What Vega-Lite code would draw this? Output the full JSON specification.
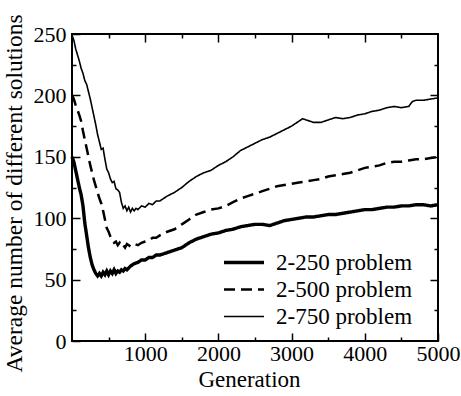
{
"$schema":"https://vega.github.io/schema/vega-lite/v6.json",
"width":366,"height":307,
"autosize":{"type":"none"},
"padding":{"left":72,"top":34,"right":23,"bottom":55},
"config":{
 "view":{"stroke":"black","strokeWidth":2},
 "font":"Times New Roman, Liberation Serif, serif",
 "axis":{"domain":false,"grid":false,"labelFont":"Times New Roman, Liberation Serif, serif","labelFontSize":22,"labelColor":"black","labelFlush":false,"labelOverlap":false,"titleFont":"Times New Roman, Liberation Serif, serif","titleFontSize":23,"titleFontWeight":"normal","titleColor":"black","tickColor":"black","tickWidth":1.5},
 "legend":{"orient":"none","legendX":150,"legendY":215,"padding":0,"labelFont":"Times New Roman, Liberation Serif, serif","labelFontSize":23,"labelColor":"black","labelOffset":10,"symbolType":"stroke","symbolSize":1600,"symbolStrokeColor":"black","clipHeight":27,"rowPadding":0}
},
"datasets":{"d":[
{"g":0,"v":150,"s":"2-250 problem"},{"g":25,"v":146,"s":"2-250 problem"},{"g":50,"v":139,"s":"2-250 problem"},{"g":75,"v":132,"s":"2-250 problem"},{"g":100,"v":125,"s":"2-250 problem"},{"g":125,"v":119,"s":"2-250 problem"},{"g":150,"v":110,"s":"2-250 problem"},{"g":175,"v":96,"s":"2-250 problem"},{"g":200,"v":86,"s":"2-250 problem"},{"g":225,"v":76,"s":"2-250 problem"},{"g":250,"v":68,"s":"2-250 problem"},{"g":275,"v":62,"s":"2-250 problem"},{"g":300,"v":58,"s":"2-250 problem"},{"g":325,"v":55,"s":"2-250 problem"},{"g":350,"v":53,"s":"2-250 problem"},{"g":375,"v":55,"s":"2-250 problem"},{"g":400,"v":53,"s":"2-250 problem"},{"g":425,"v":56,"s":"2-250 problem"},{"g":450,"v":54,"s":"2-250 problem"},{"g":475,"v":57,"s":"2-250 problem"},{"g":500,"v":54,"s":"2-250 problem"},{"g":525,"v":57,"s":"2-250 problem"},{"g":550,"v":55,"s":"2-250 problem"},{"g":575,"v":58,"s":"2-250 problem"},{"g":600,"v":55,"s":"2-250 problem"},{"g":625,"v":57,"s":"2-250 problem"},{"g":650,"v":56,"s":"2-250 problem"},{"g":675,"v":58,"s":"2-250 problem"},{"g":700,"v":57,"s":"2-250 problem"},{"g":725,"v":59,"s":"2-250 problem"},{"g":750,"v":58,"s":"2-250 problem"},{"g":800,"v":61,"s":"2-250 problem"},{"g":850,"v":63,"s":"2-250 problem"},{"g":900,"v":64,"s":"2-250 problem"},{"g":950,"v":66,"s":"2-250 problem"},{"g":1000,"v":66,"s":"2-250 problem"},{"g":1050,"v":68,"s":"2-250 problem"},{"g":1100,"v":68,"s":"2-250 problem"},{"g":1150,"v":70,"s":"2-250 problem"},{"g":1200,"v":70,"s":"2-250 problem"},{"g":1300,"v":72,"s":"2-250 problem"},{"g":1400,"v":74,"s":"2-250 problem"},{"g":1500,"v":76,"s":"2-250 problem"},{"g":1600,"v":80,"s":"2-250 problem"},{"g":1700,"v":83,"s":"2-250 problem"},{"g":1800,"v":85,"s":"2-250 problem"},{"g":1900,"v":87,"s":"2-250 problem"},{"g":2000,"v":88,"s":"2-250 problem"},{"g":2100,"v":90,"s":"2-250 problem"},{"g":2200,"v":91,"s":"2-250 problem"},{"g":2300,"v":93,"s":"2-250 problem"},{"g":2400,"v":94,"s":"2-250 problem"},{"g":2500,"v":95,"s":"2-250 problem"},{"g":2600,"v":95,"s":"2-250 problem"},{"g":2700,"v":94,"s":"2-250 problem"},{"g":2800,"v":96,"s":"2-250 problem"},{"g":2900,"v":98,"s":"2-250 problem"},{"g":3000,"v":99,"s":"2-250 problem"},{"g":3100,"v":100,"s":"2-250 problem"},{"g":3200,"v":101,"s":"2-250 problem"},{"g":3300,"v":101,"s":"2-250 problem"},{"g":3400,"v":102,"s":"2-250 problem"},{"g":3500,"v":103,"s":"2-250 problem"},{"g":3600,"v":103,"s":"2-250 problem"},{"g":3700,"v":104,"s":"2-250 problem"},{"g":3800,"v":105,"s":"2-250 problem"},{"g":3900,"v":106,"s":"2-250 problem"},{"g":4000,"v":107,"s":"2-250 problem"},{"g":4100,"v":107,"s":"2-250 problem"},{"g":4200,"v":108,"s":"2-250 problem"},{"g":4300,"v":109,"s":"2-250 problem"},{"g":4400,"v":109,"s":"2-250 problem"},{"g":4500,"v":110,"s":"2-250 problem"},{"g":4600,"v":110,"s":"2-250 problem"},{"g":4700,"v":111,"s":"2-250 problem"},{"g":4800,"v":111,"s":"2-250 problem"},{"g":4900,"v":110,"s":"2-250 problem"},{"g":5000,"v":111,"s":"2-250 problem"},
{"g":0,"v":200,"s":"2-500 problem"},{"g":25,"v":197,"s":"2-500 problem"},{"g":50,"v":192,"s":"2-500 problem"},{"g":75,"v":188,"s":"2-500 problem"},{"g":100,"v":184,"s":"2-500 problem"},{"g":125,"v":179,"s":"2-500 problem"},{"g":150,"v":171,"s":"2-500 problem"},{"g":175,"v":164,"s":"2-500 problem"},{"g":200,"v":157,"s":"2-500 problem"},{"g":225,"v":150,"s":"2-500 problem"},{"g":250,"v":143,"s":"2-500 problem"},{"g":275,"v":137,"s":"2-500 problem"},{"g":300,"v":131,"s":"2-500 problem"},{"g":325,"v":126,"s":"2-500 problem"},{"g":350,"v":121,"s":"2-500 problem"},{"g":375,"v":116,"s":"2-500 problem"},{"g":400,"v":112,"s":"2-500 problem"},{"g":425,"v":106,"s":"2-500 problem"},{"g":450,"v":99,"s":"2-500 problem"},{"g":475,"v":92,"s":"2-500 problem"},{"g":500,"v":89,"s":"2-500 problem"},{"g":525,"v":85,"s":"2-500 problem"},{"g":550,"v":82,"s":"2-500 problem"},{"g":575,"v":80,"s":"2-500 problem"},{"g":600,"v":81,"s":"2-500 problem"},{"g":625,"v":78,"s":"2-500 problem"},{"g":650,"v":80,"s":"2-500 problem"},{"g":675,"v":77,"s":"2-500 problem"},{"g":700,"v":78,"s":"2-500 problem"},{"g":725,"v":76,"s":"2-500 problem"},{"g":750,"v":79,"s":"2-500 problem"},{"g":800,"v":77,"s":"2-500 problem"},{"g":850,"v":79,"s":"2-500 problem"},{"g":900,"v":78,"s":"2-500 problem"},{"g":950,"v":80,"s":"2-500 problem"},{"g":1000,"v":81,"s":"2-500 problem"},{"g":1050,"v":82,"s":"2-500 problem"},{"g":1100,"v":84,"s":"2-500 problem"},{"g":1150,"v":84,"s":"2-500 problem"},{"g":1200,"v":86,"s":"2-500 problem"},{"g":1300,"v":89,"s":"2-500 problem"},{"g":1400,"v":91,"s":"2-500 problem"},{"g":1500,"v":95,"s":"2-500 problem"},{"g":1600,"v":99,"s":"2-500 problem"},{"g":1700,"v":103,"s":"2-500 problem"},{"g":1800,"v":105,"s":"2-500 problem"},{"g":1900,"v":107,"s":"2-500 problem"},{"g":2000,"v":108,"s":"2-500 problem"},{"g":2100,"v":110,"s":"2-500 problem"},{"g":2200,"v":113,"s":"2-500 problem"},{"g":2300,"v":116,"s":"2-500 problem"},{"g":2400,"v":118,"s":"2-500 problem"},{"g":2500,"v":120,"s":"2-500 problem"},{"g":2600,"v":122,"s":"2-500 problem"},{"g":2700,"v":124,"s":"2-500 problem"},{"g":2800,"v":126,"s":"2-500 problem"},{"g":2900,"v":127,"s":"2-500 problem"},{"g":3000,"v":128,"s":"2-500 problem"},{"g":3100,"v":129,"s":"2-500 problem"},{"g":3200,"v":130,"s":"2-500 problem"},{"g":3300,"v":131,"s":"2-500 problem"},{"g":3400,"v":132,"s":"2-500 problem"},{"g":3500,"v":134,"s":"2-500 problem"},{"g":3600,"v":135,"s":"2-500 problem"},{"g":3700,"v":136,"s":"2-500 problem"},{"g":3800,"v":137,"s":"2-500 problem"},{"g":3900,"v":139,"s":"2-500 problem"},{"g":4000,"v":141,"s":"2-500 problem"},{"g":4100,"v":142,"s":"2-500 problem"},{"g":4200,"v":143,"s":"2-500 problem"},{"g":4300,"v":145,"s":"2-500 problem"},{"g":4400,"v":146,"s":"2-500 problem"},{"g":4500,"v":146,"s":"2-500 problem"},{"g":4600,"v":147,"s":"2-500 problem"},{"g":4700,"v":148,"s":"2-500 problem"},{"g":4800,"v":148,"s":"2-500 problem"},{"g":4900,"v":149,"s":"2-500 problem"},{"g":5000,"v":150,"s":"2-500 problem"},
{"g":0,"v":249,"s":"2-750 problem"},{"g":25,"v":245,"s":"2-750 problem"},{"g":50,"v":238,"s":"2-750 problem"},{"g":75,"v":233,"s":"2-750 problem"},{"g":100,"v":228,"s":"2-750 problem"},{"g":125,"v":222,"s":"2-750 problem"},{"g":150,"v":218,"s":"2-750 problem"},{"g":175,"v":212,"s":"2-750 problem"},{"g":200,"v":209,"s":"2-750 problem"},{"g":225,"v":203,"s":"2-750 problem"},{"g":250,"v":197,"s":"2-750 problem"},{"g":275,"v":190,"s":"2-750 problem"},{"g":300,"v":183,"s":"2-750 problem"},{"g":325,"v":176,"s":"2-750 problem"},{"g":350,"v":168,"s":"2-750 problem"},{"g":375,"v":162,"s":"2-750 problem"},{"g":400,"v":156,"s":"2-750 problem"},{"g":425,"v":157,"s":"2-750 problem"},{"g":450,"v":148,"s":"2-750 problem"},{"g":475,"v":140,"s":"2-750 problem"},{"g":500,"v":137,"s":"2-750 problem"},{"g":525,"v":132,"s":"2-750 problem"},{"g":550,"v":129,"s":"2-750 problem"},{"g":575,"v":130,"s":"2-750 problem"},{"g":600,"v":124,"s":"2-750 problem"},{"g":625,"v":123,"s":"2-750 problem"},{"g":650,"v":121,"s":"2-750 problem"},{"g":675,"v":113,"s":"2-750 problem"},{"g":700,"v":108,"s":"2-750 problem"},{"g":725,"v":110,"s":"2-750 problem"},{"g":750,"v":106,"s":"2-750 problem"},{"g":775,"v":109,"s":"2-750 problem"},{"g":800,"v":105,"s":"2-750 problem"},{"g":825,"v":108,"s":"2-750 problem"},{"g":850,"v":106,"s":"2-750 problem"},{"g":875,"v":108,"s":"2-750 problem"},{"g":900,"v":107,"s":"2-750 problem"},{"g":950,"v":110,"s":"2-750 problem"},{"g":1000,"v":109,"s":"2-750 problem"},{"g":1050,"v":112,"s":"2-750 problem"},{"g":1100,"v":111,"s":"2-750 problem"},{"g":1150,"v":114,"s":"2-750 problem"},{"g":1200,"v":114,"s":"2-750 problem"},{"g":1300,"v":118,"s":"2-750 problem"},{"g":1400,"v":121,"s":"2-750 problem"},{"g":1500,"v":125,"s":"2-750 problem"},{"g":1600,"v":130,"s":"2-750 problem"},{"g":1700,"v":134,"s":"2-750 problem"},{"g":1800,"v":137,"s":"2-750 problem"},{"g":1900,"v":139,"s":"2-750 problem"},{"g":2000,"v":143,"s":"2-750 problem"},{"g":2100,"v":146,"s":"2-750 problem"},{"g":2200,"v":150,"s":"2-750 problem"},{"g":2300,"v":155,"s":"2-750 problem"},{"g":2400,"v":158,"s":"2-750 problem"},{"g":2500,"v":161,"s":"2-750 problem"},{"g":2600,"v":164,"s":"2-750 problem"},{"g":2700,"v":166,"s":"2-750 problem"},{"g":2800,"v":169,"s":"2-750 problem"},{"g":2900,"v":172,"s":"2-750 problem"},{"g":3000,"v":175,"s":"2-750 problem"},{"g":3100,"v":179,"s":"2-750 problem"},{"g":3150,"v":181,"s":"2-750 problem"},{"g":3200,"v":180,"s":"2-750 problem"},{"g":3300,"v":178,"s":"2-750 problem"},{"g":3400,"v":178,"s":"2-750 problem"},{"g":3500,"v":180,"s":"2-750 problem"},{"g":3600,"v":182,"s":"2-750 problem"},{"g":3700,"v":181,"s":"2-750 problem"},{"g":3800,"v":182,"s":"2-750 problem"},{"g":3900,"v":184,"s":"2-750 problem"},{"g":4000,"v":185,"s":"2-750 problem"},{"g":4100,"v":187,"s":"2-750 problem"},{"g":4200,"v":188,"s":"2-750 problem"},{"g":4300,"v":190,"s":"2-750 problem"},{"g":4400,"v":191,"s":"2-750 problem"},{"g":4500,"v":190,"s":"2-750 problem"},{"g":4600,"v":191,"s":"2-750 problem"},{"g":4650,"v":195,"s":"2-750 problem"},{"g":4700,"v":196,"s":"2-750 problem"},{"g":4800,"v":196,"s":"2-750 problem"},{"g":4900,"v":197,"s":"2-750 problem"},{"g":5000,"v":198,"s":"2-750 problem"}
]},
"data":{"name":"d"},
"resolve":{"axis":{"x":"independent","y":"independent"}},
"layer":[
{"mark":{"type":"line","color":"black"},
 "encoding":{
  "x":{"field":"g","type":"quantitative","scale":{"domain":[0,5000],"nice":false},"axis":{"orient":"bottom","values":[1000,2000,3000,4000,5000],"format":"d","labelOverlap":false,"labelFlush":false,"tickSize":-8,"labelPadding":10,"title":"Generation","titlePadding":4,"titleX":177}},
  "y":{"field":"v","type":"quantitative","scale":{"domain":[0,250],"nice":false},"axis":{"orient":"left","values":[0,50,100,150,200,250],"format":"d","labelOverlap":false,"labelFlush":false,"tickSize":-8,"labelPadding":14,"title":"Average number of different solutions","titleFontSize":23.5,"titlePadding":7,"titleY":159}},
  "strokeDash":{"field":"s","type":"nominal","scale":{"domain":["2-250 problem","2-500 problem","2-750 problem"],"range":[[1,0],[11,6],[1,0]]},"legend":{"title":null}},
  "strokeWidth":{"field":"s","type":"nominal","scale":{"domain":["2-250 problem","2-500 problem","2-750 problem"],"range":[3.4,1.6,1]},"legend":{"title":null}}
 }},
{"mark":{"type":"point","opacity":0},
 "encoding":{
  "x":{"field":"g","type":"quantitative","axis":{"orient":"bottom","values":[500,1500,2500,3500,4500],"tickSize":-4,"labels":false,"title":null}},
  "y":{"field":"v","type":"quantitative","axis":{"orient":"left","values":[25,75,125,175,225],"tickSize":-4,"labels":false,"title":null}}
 }},
{"mark":{"type":"point","opacity":0},
 "encoding":{
  "x":{"field":"g","type":"quantitative","axis":{"orient":"top","values":[1000,2000,3000,4000],"tickSize":-8,"labels":false,"title":null}},
  "y":{"field":"v","type":"quantitative","axis":{"orient":"right","values":[50,100,150,200],"tickSize":-8,"labels":false,"title":null}}
 }},
{"mark":{"type":"point","opacity":0},
 "encoding":{
  "x":{"field":"g","type":"quantitative","axis":{"orient":"top","values":[500,1500,2500,3500,4500],"tickSize":-4,"labels":false,"title":null}},
  "y":{"field":"v","type":"quantitative","axis":{"orient":"right","values":[25,75,125,175,225],"tickSize":-4,"labels":false,"title":null}}
 }}
]
}
